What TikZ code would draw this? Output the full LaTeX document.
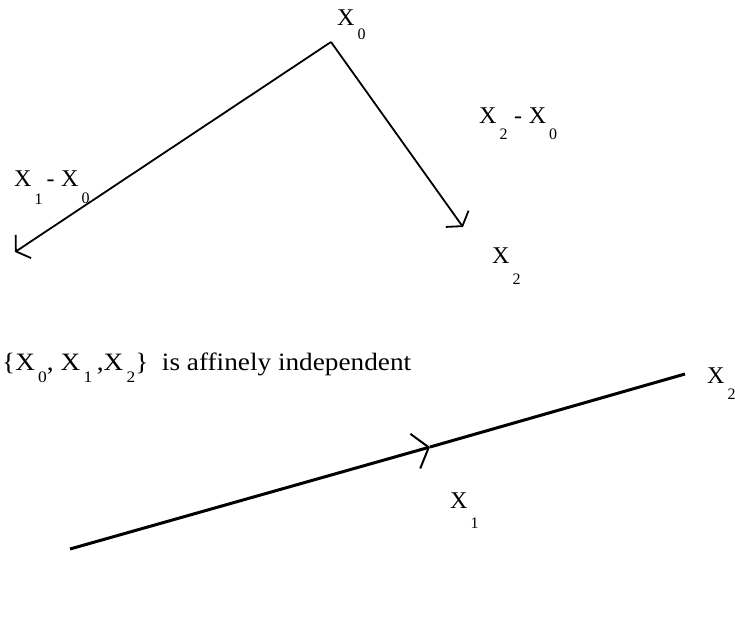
\documentclass[tikz,border=0pt]{standalone}
\usepackage{fontspec}
\setmainfont{Liberation Serif}
\usepackage{graphicx}
\usepackage{tikz}
\usetikzlibrary{arrows.meta, positioning}

\newcommand{\vx}[2][16pt]{X\kern3pt\raisebox{-#1}{\fontsize{16}{16}\selectfont #2}}

\begin{document}
\begin{tikzpicture}[x=1pt, y=-1pt,
    vec/.style={line width=1.8pt, -{Straight Barb[length=9pt, width=28pt, line width=1.8pt]}},
    thick line/.style={line width=3pt},
    lbl/.style={anchor=base west, inner sep=0pt, font=\fontsize{24}{28}\selectfont}
]
    \useasboundingbox (0,0) rectangle (735,618);

    % top: two difference vectors from x0
    \coordinate (x0) at (331,42);
    \coordinate (e1) at (15,252);
    \coordinate (e2) at (463,227);
    \draw[vec] (x0) -- (e1);
    \draw[vec] (x0) -- (e2);

    \node[lbl] (lx0) at (337,26) {\vx[14pt]{0}};
    \node[lbl] (ld2) at (479,123) {\vx{2}\;-\;\vx{0}};
    \node[lbl] (ld1) at (14,186) {\vx[18pt]{1}\,-\;\vx[17pt]{0}};
    \node[lbl] (lx2) at (492,263) {\vx[21pt]{2}};

    % statement
    \node[lbl] (stmt) at (2,370) {\scalebox{1.09}[1]{\fontsize{25}{28}\selectfont
        \{\vx[12pt]{0}, \vx[12pt]{1}\,,\vx[12pt]{2}\}\ \ is affinely independent}};

    % bottom: collinear points
    \coordinate (b0) at (70,549);
    \coordinate (b1) at (430,447);
    \coordinate (b2) at (685,374);
    \draw[thick line, -{Straight Barb[length=14pt, width=36pt, line width=2pt]}] (b0) -- (b1);
    \draw[thick line] (b1) -- (b2);

    \node[lbl] (lb1) at (450,508) {\vx[20pt]{1}};
    \node[lbl] (lb2) at (707,383) {\vx{2}};
\end{tikzpicture}
\end{document}
